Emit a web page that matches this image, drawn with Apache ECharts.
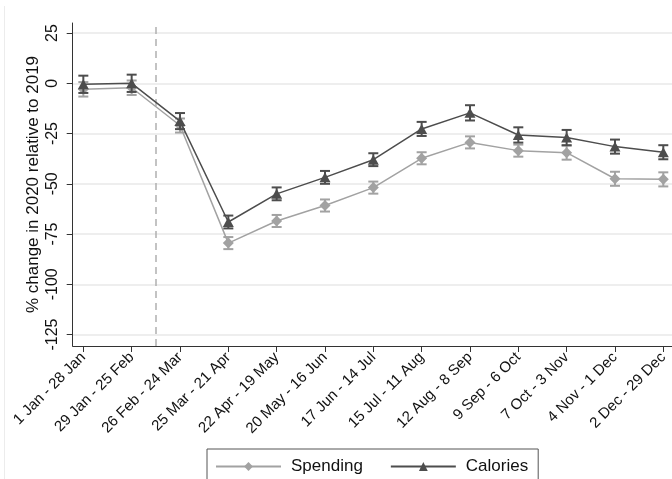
<!DOCTYPE html>
<html>
<head>
<meta charset="utf-8">
<script src="https://cdn.jsdelivr.net/npm/echarts@6/dist/echarts.min.js"></script>
<style>
html,body{margin:0;padding:0;background:#fff;}
#chart{width:672px;height:479px;}
</style>
</head>
<body>
<div id="chart"></div>
<script>
const categories = ['1 Jan - 28 Jan','29 Jan - 25 Feb','26 Feb - 24 Mar','25 Mar - 21 Apr','22 Apr - 19 May','20 May - 16 Jun','17 Jun - 14 Jul','15 Jul - 11 Aug','12 Aug - 8 Sep','9 Sep - 6 Oct','7 Oct - 3 Nov','4 Nov - 1 Dec','2 Dec - 29 Dec'];
const spending = [-3, -2.2, -21, -79.5, -68.5, -60.8, -51.9, -37.3, -29.4, -33.5, -34.5, -47.5, -47.8];
const calories = [-0.5, 0, -18.8, -69, -55, -46.8, -38, -22.7, -14.7, -25.7, -27, -31.5, -34.3];
const spendingCI = [3.6, 3.6, 3.5, 3, 3, 3, 3, 3, 3, 3, 3.5, 3.5, 3.5];
const caloriesCI = [4.3, 4.3, 4, 3.2, 3.2, 3.2, 3.2, 3.5, 3.8, 3.8, 3.8, 3.5, 3.5];
const yTicks = [-125, -100, -75, -50, -25, 0, 25];
const shockPosition = 1.5; // dashed line between 2nd and 3rd period

const spColor = '#a2a2a2';
const calColor = '#4d4d4d';

const idx = categories.map((c, i) => i);
const spData = spending.map((v, i) => [i, v]);
const calData = calories.map((v, i) => [i, v]);
const spErr = spending.map((v, i) => [i, v, spendingCI[i]]);
const calErr = calories.map((v, i) => [i, v, caloriesCI[i]]);

function errRender(color) {
  return function (params, api) {
    const x = api.value(0), v = api.value(1), ci = api.value(2);
    const t = api.coord([x, v + ci]);
    const b = api.coord([x, v - ci]);
    const hw = 5;
    const st = { stroke: color, lineWidth: 2 };
    return {
      type: 'group',
      children: [
        { type: 'line', shape: { x1: t[0], y1: t[1], x2: b[0], y2: b[1] }, style: st },
        { type: 'line', shape: { x1: t[0] - hw, y1: t[1], x2: t[0] + hw, y2: t[1] }, style: st },
        { type: 'line', shape: { x1: b[0] - hw, y1: b[1], x2: b[0] + hw, y2: b[1] }, style: st }
      ]
    };
  };
}

const chart = echarts.init(document.getElementById('chart'), null, { renderer: 'canvas' });
chart.setOption({
  animation: false,
  backgroundColor: '#fff',
  textStyle: { fontFamily: 'Liberation Sans, Arial, sans-serif' },
  grid: { left: 72.7, right: 0, top: 23, bottom: 133, containLabel: false },
  xAxis: {
    type: 'value',
    min: -0.22,
    max: 12.18,
    axisLine: { show: true, onZero: false, lineStyle: { color: '#333', width: 1 } },
    axisTick: { show: true, customValues: idx, length: 6, lineStyle: { color: '#333' } },
    axisLabel: {
      customValues: idx,
      formatter: v => categories[Math.round(v)],
      rotate: 45,
      fontSize: 15,
      color: '#111',
      margin: 9
    },
    splitLine: { show: false }
  },
  yAxis: {
    type: 'value',
    min: -130.7,
    max: 30,
    name: '% change in 2020 relative to 2019',
    nameLocation: 'middle',
    nameGap: 31,
    nameMoveOverlap: false,
    nameTextStyle: { fontSize: 17, color: '#111' },
    axisLine: { show: true, onZero: false, lineStyle: { color: '#333', width: 1 } },
    axisTick: { show: true, customValues: yTicks, length: 6, lineStyle: { color: '#333' } },
    axisLabel: { customValues: yTicks, rotate: 90, fontSize: 16, color: '#111', margin: 12 },
    splitLine: { show: true, lineStyle: { color: '#e8e8e8', width: 1.5 } }
  },
  legend: {
    data: ['Spending', 'Calories'],
    left: 207,
    top: 449,
    orient: 'horizontal',
    borderColor: '#555',
    borderWidth: 1,
    borderRadius: 0,
    padding: [9, 10, 12, 8],
    itemWidth: 65,
    itemHeight: 11,
    itemGap: 27,
    textStyle: { fontSize: 17, color: '#111', padding: [0, 0, 0, 5] }
  },
  graphic: [
    { type: 'line', shape: { x1: 4.5, y1: 6, x2: 4.5, y2: 479 }, style: { stroke: '#ececec', lineWidth: 1 } }
  ],
  series: [
    {
      type: 'custom', name: 'spErr', data: spErr, renderItem: errRender(spColor), z: 2, silent: true
    },
    {
      type: 'line', name: 'Spending', data: spData, z: 3,
      symbol: 'diamond', symbolSize: [11, 11],
      lineStyle: { color: spColor, width: 1.5 },
      itemStyle: { color: spColor },
      markLine: {
        silent: true, symbol: 'none', label: { show: false },
        lineStyle: { color: '#b0b0b0', type: [7, 5], width: 1.5 },
        data: [{ xAxis: shockPosition }]
      }
    },
    {
      type: 'custom', name: 'calErr', data: calErr, renderItem: errRender(calColor), z: 4, silent: true
    },
    {
      type: 'line', name: 'Calories', data: calData, z: 5,
      symbol: 'triangle', symbolSize: [11, 10],
      lineStyle: { color: calColor, width: 1.5 },
      itemStyle: { color: calColor }
    }
  ]
});
</script>
</body>
</html>
